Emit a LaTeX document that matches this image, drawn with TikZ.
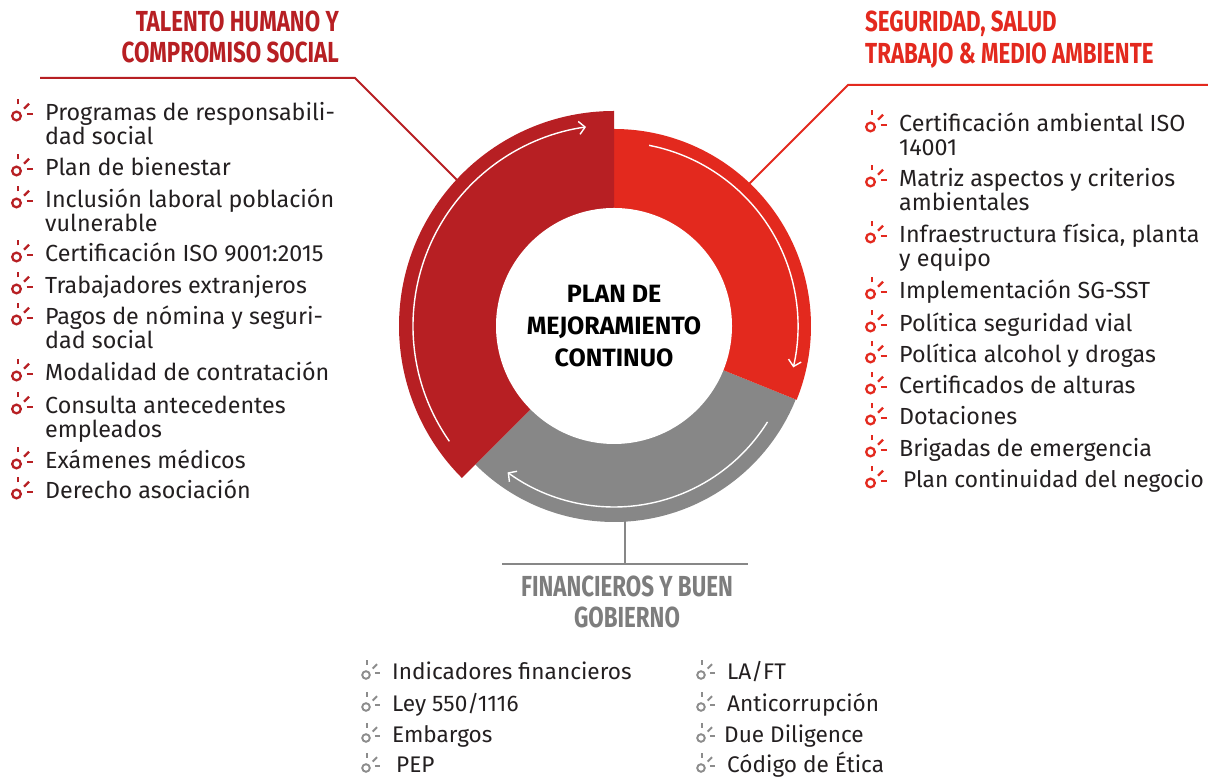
\documentclass[tikz,border=0pt]{standalone}
\usepackage{fontspec}
\setmainfont{Fira Sans}
\newfontfamily\headfont[FakeStretch=0.77]{Fira Sans}
\usetikzlibrary{arrows.meta,positioning}
\definecolor{DarkRed}{RGB}{183,31,35}
\definecolor{BrightRed}{RGB}{227,41,30}
\definecolor{RingGray}{RGB}{135,135,135}
\definecolor{TitleGray}{RGB}{125,125,125}
\definecolor{BulletGray}{RGB}{140,140,140}
\definecolor{Ink}{RGB}{35,31,32}
\tikzset{
  >=Latex,
  head/.style={font=\headfont\bfseries\fontsize{29}{31.3}\selectfont,inner sep=0pt},
  hub/.style={circle,fill=white,minimum size=236pt,inner sep=0pt,align=center,text=black,font=\bfseries\fontsize{25}{32}\selectfont},
  item/.style={anchor=base west,inner sep=0pt,align=left,text=Ink,font=\fontsize{23.3}{24}\selectfont},
  subitem/.style={item,font=\fontsize{22.6}{24}\selectfont},
  leader/.style={line width=2pt},
  cyclearrow/.style={draw=white,line width=1.4pt,-{Straight Barb[length=6pt,width=13pt]}},
  redspark/.style={DarkRed,line width=2.3pt,scale=1.08},
  brightspark/.style={BrightRed,line width=2.3pt,scale=1.08},
  grayspark/.style={BulletGray,line width=1.9pt,scale=0.95},
  pics/spark/.style={code={
    \draw (0,0) circle[radius=4pt];
    \draw (1.3,10.7) -- (1.3,16);
    \draw (7,6.7) -- (11.6,11.4);
    \draw (9.3,1.7) -- (15,1.7);
  }}
}
\begin{document}
\begin{tikzpicture}[x=1pt,y=1pt]
  \useasboundingbox (0,0) rectangle (1208,778);
  \coordinate (C) at (614,452);

  % leaders
  \coordinate (la) at (40,700);
  \coordinate (lb) at (355,700);
  \coordinate (lc) at (458,597);
  \draw[leader,DarkRed] (la) -- (lb) -- (lc);
  \coordinate (ra) at (1208,693);
  \coordinate (rb) at (848,693);
  \coordinate (rc) at (749,594);
  \draw[leader,BrightRed] (ra) -- (rb) -- (rc);
  \coordinate (ga) at (625,258);
  \coordinate (gb) at (625,214);
  \coordinate (gl) at (502,214);
  \coordinate (gr) at (748,214);
  \draw[leader,RingGray,line width=2.5pt] (ga) -- (gb);
  \draw[leader,RingGray,line width=2.5pt] (gl) -- (gr);

  % ring
  \fill[RingGray] (C) -- +(-22:196) arc[start angle=-22,end angle=-135,radius=196pt] -- cycle;
  \fill[BrightRed] (C) -- +(90:197) arc[start angle=90,end angle=-22,radius=197pt] -- cycle;
  \fill[DarkRed] (C) -- +(90:215) arc[start angle=90,end angle=225,radius=215pt] -- cycle;
  \node[hub] (plan) at (C) {PLAN DE\\MEJORAMIENTO\\CONTINUO};
  \draw[cyclearrow] (C) ++(215:201) arc[start angle=215,end angle=98,radius=201pt];
  \draw[cyclearrow] (C) ++(79:184) arc[start angle=79,end angle=-13,radius=184pt];
  \draw[cyclearrow] (C) ++(-32:181) arc[start angle=-32,end angle=-126,radius=181pt];

  % titles
  \node[head,DarkRed,anchor=base east,align=right] (talento) at (339,715) {TALENTO HUMANO Y\\COMPROMISO SOCIAL};
  \node[head,BrightRed,anchor=base west,align=left] (seguridad) at (865,714.7) {SEGURIDAD, SALUD\\TRABAJO \& MEDIO AMBIENTE};
  \node[head,TitleGray,anchor=base,align=center] (financieros) at (627,150) {FINANCIEROS Y BUEN\\GOBIERNO};

  % talento humano
  \node[item] (th1) at (45,633) {Programas de responsabili-\\dad social};
  \node[item] (th2) at (45,602) {Plan de bienestar};
  \node[item] (th3) at (45,546) {Inclusión laboral población\\vulnerable};
  \node[item] (th4) at (45,516) {Certificación ISO 9001:2015};
  \node[item] (th5) at (45,484) {Trabajadores extranjeros};
  \node[item] (th6) at (45,429) {Pagos de nómina y seguri-\\dad social};
  \node[item] (th7) at (45,397) {Modalidad de contratación};
  \node[item] (th8) at (45,340) {Consulta antecedentes\\empleados};
  \node[item] (th9) at (45,309) {Exámenes médicos};
  \node[item] (th10) at (45,279) {Derecho asociación};
  \pic[redspark] at (16.5,662) {spark};
  \pic[redspark] at (16.5,607) {spark};
  \pic[redspark] at (16.5,575) {spark};
  \pic[redspark] at (16.5,521) {spark};
  \pic[redspark] at (16.5,489) {spark};
  \pic[redspark] at (16.5,458) {spark};
  \pic[redspark] at (16.5,402) {spark};
  \pic[redspark] at (16.5,369) {spark};
  \pic[redspark] at (16.5,314) {spark};
  \pic[redspark] at (16.5,284) {spark};

  % seguridad
  \node[item] (ss1) at (899,622) {Certificación ambiental ISO\\14001};
  \node[item] (ss2) at (899,567) {Matriz aspectos y criterios\\ambientales};
  \node[item] (ss3) at (899,511) {Infraestructura física, planta\\y equipo};
  \node[item] (ss4) at (899,479) {Implementación SG-SST};
  \node[item] (ss5) at (899,446) {Política seguridad vial};
  \node[item] (ss6) at (899,415) {Política alcohol y drogas};
  \node[item] (ss7) at (899,384) {Certificados de alturas};
  \node[item] (ss8) at (899,353) {Dotaciones};
  \node[item] (ss9) at (899,321) {Brigadas de emergencia};
  \node[item,font=\fontsize{22.7}{24}\selectfont] (ss10) at (903,290) {Plan continuidad del negocio};
  \pic[brightspark] at (870.5,651) {spark};
  \pic[brightspark] at (870.5,596) {spark};
  \pic[brightspark] at (870.5,540) {spark};
  \pic[brightspark] at (870.5,484) {spark};
  \pic[brightspark] at (870.5,451) {spark};
  \pic[brightspark] at (870.5,420) {spark};
  \pic[brightspark] at (870.5,389) {spark};
  \pic[brightspark] at (870.5,358) {spark};
  \pic[brightspark] at (870.5,326) {spark};
  \pic[brightspark] at (870.5,295) {spark};

  % financieros
  \node[subitem] (fb1) at (392,98) {Indicadores financieros};
  \node[subitem] (fb2) at (392,66) {Ley 550/1116};
  \node[subitem] (fb3) at (392,35) {Embargos};
  \node[subitem] (fb4) at (396,5) {PEP};
  \node[subitem] (fb5) at (727,98) {LA/FT};
  \node[subitem] (fb6) at (727,66) {Anticorrupción};
  \node[subitem] (fb7) at (724,35) {Due Diligence};
  \node[subitem] (fb8) at (727,5) {Código de Ética};
  \pic[grayspark] at (366,103) {spark};
  \pic[grayspark] at (366,71) {spark};
  \pic[grayspark] at (366,40) {spark};
  \pic[grayspark] at (366,10) {spark};
  \pic[grayspark] at (701,103) {spark};
  \pic[grayspark] at (701,71) {spark};
  \pic[grayspark] at (701,40) {spark};
  \pic[grayspark] at (701,10) {spark};
\end{tikzpicture}
\end{document}
